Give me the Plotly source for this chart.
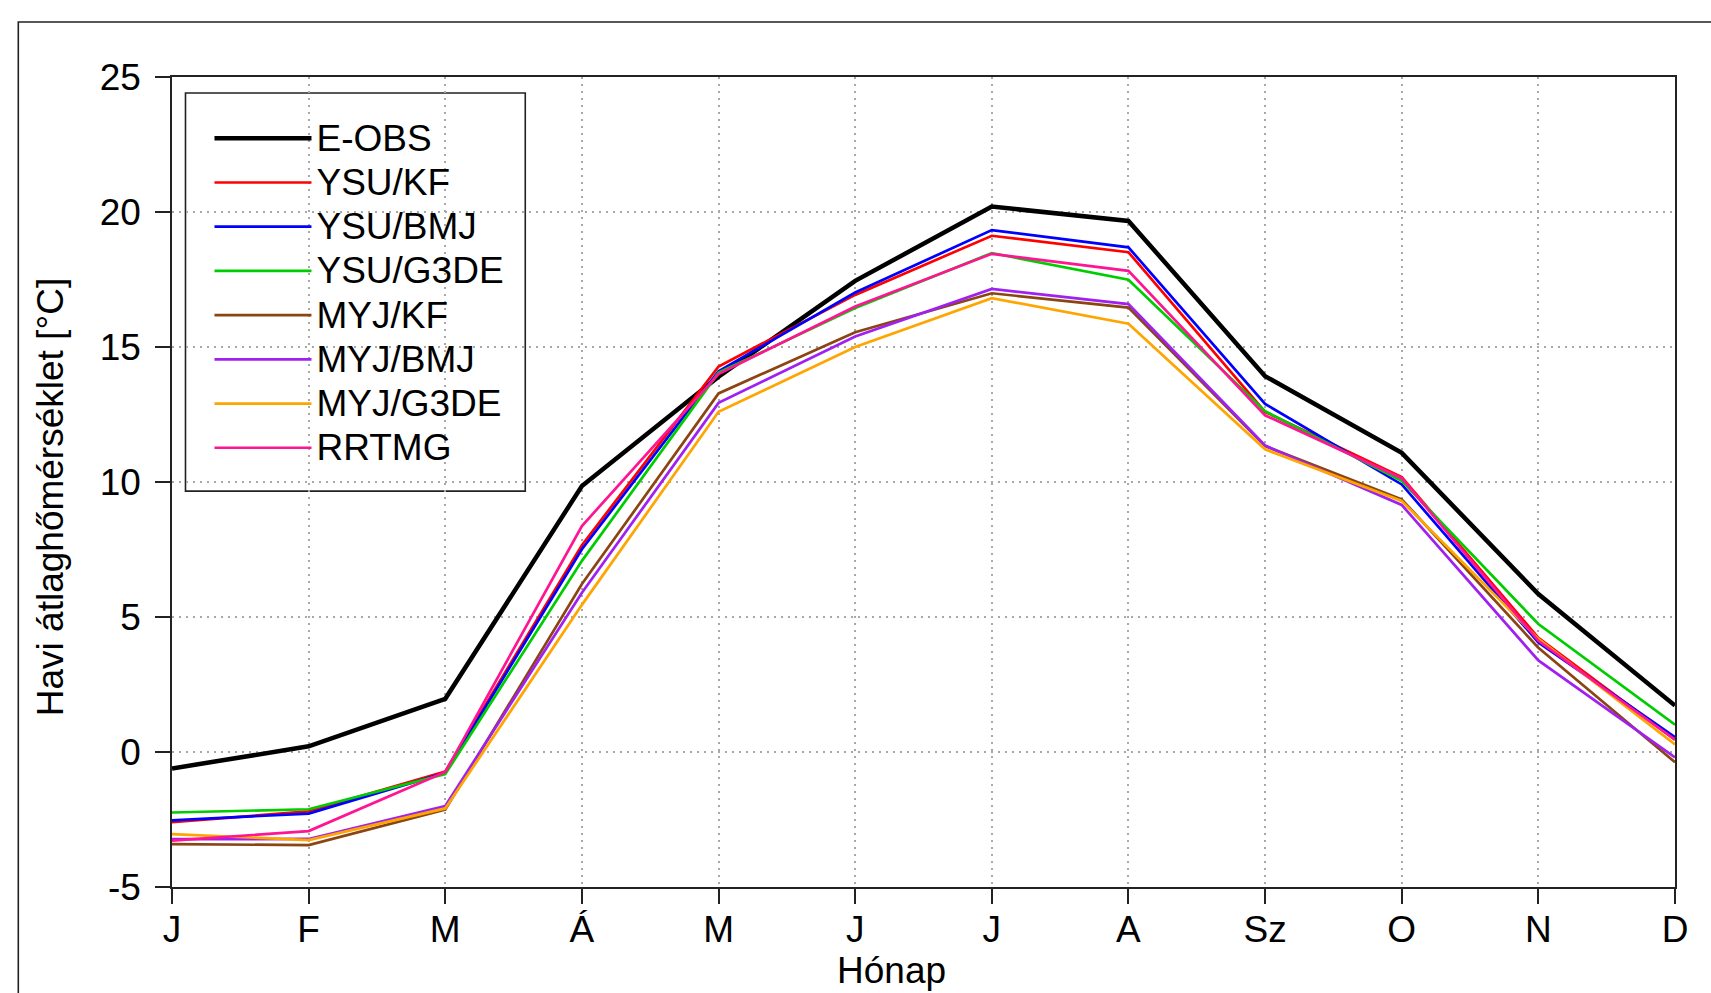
import plotly.graph_objects as go

# ---- data ----
month_labels = ["J", "F", "M", "Á", "M", "J", "J", "A", "Sz", "O", "N", "D"]
month_index = list(range(len(month_labels)))

series_names = ["E-OBS", "YSU/KF", "YSU/BMJ", "YSU/G3DE", "MYJ/KF", "MYJ/BMJ", "MYJ/G3DE", "RRTMG"]

eobs     = [-0.61, 0.21, 1.97, 9.85, 13.90, 17.45, 20.20, 19.67, 13.92, 11.08, 5.85, 1.72]
ysu_kf   = [-2.60, -2.20, -0.72, 7.66, 14.28, 16.93, 19.12, 18.51, 12.60, 10.18, 4.23, 0.46]
ysu_bmj  = [-2.53, -2.28, -0.77, 7.51, 14.10, 17.02, 19.33, 18.69, 12.89, 9.91, 4.06, 0.55]
ysu_g3de = [-2.24, -2.12, -0.82, 7.08, 14.05, 16.44, 18.48, 17.49, 12.62, 10.04, 4.74, 1.01]
myj_kf   = [-3.41, -3.45, -2.13, 6.22, 13.28, 15.55, 16.99, 16.46, 11.33, 9.36, 3.86, -0.38]
myj_bmj  = [-3.23, -3.22, -2.00, 5.90, 12.93, 15.39, 17.15, 16.59, 11.35, 9.15, 3.39, -0.20]
myj_g3de = [-3.04, -3.26, -2.09, 5.45, 12.60, 15.00, 16.81, 15.86, 11.21, 9.30, 4.19, 0.28]
rrtmg    = [-3.28, -2.93, -0.74, 8.37, 14.00, 16.50, 18.45, 17.82, 12.47, 10.14, 4.12, 0.46]

y_ticks = [-5, 0, 5, 10, 15, 20, 25]
y_tick_labels = ["-5", "0", "5", "10", "15", "20", "25"]

x_title = "Hónap"
y_title = "Havi átlaghőmérséklet [°C]"

series_values = [eobs, ysu_kf, ysu_bmj, ysu_g3de, myj_kf, myj_bmj, myj_g3de, rrtmg]
series_colors = ["#000000", "#FF0000", "#0000FF", "#00CD00", "#8B4513", "#A020F0", "#FFA500", "#FF1493"]
series_widths = [4.5, 2.7, 2.7, 2.7, 2.7, 2.7, 2.7, 2.7]

FONT = "Liberation Sans, Arial, Helvetica, sans-serif"
FS = 37
LEGEND_FS = 31.7  # controls legend row spacing

fig = go.Figure()
for name, vals, col, w in zip(series_names, series_values, series_colors, series_widths):
    fig.add_trace(go.Scatter(
        x=month_index, y=vals, mode="lines",
        name=f"<span style='font-size:{FS}px'>{name}</span>",
        line=dict(color=col, width=w),
    ))

W, H = 1711, 993
L, R, T, B = 171.5, 35.5, 76.7, 106
pw, ph = W - L - R, H - T - B

def px_x(p):
    return (p - L) / pw

def px_y(p):
    return (H - B - p) / ph

axis_common = dict(
    showline=True, linecolor="#222222", linewidth=1.6, mirror=True,
    ticks="outside", ticklen=15, tickwidth=1.6, tickcolor="#222222",
    showgrid=True, gridcolor="#a8a8a8", gridwidth=1.5, griddash="2px,5px",
    zeroline=False,
    tickfont=dict(family=FONT, size=FS, color="#000000"),
)

fig.update_layout(
    width=W, height=H,
    margin=dict(l=L, r=R, t=T, b=B, autoexpand=False),
    paper_bgcolor="white", plot_bgcolor="white",
    font=dict(family=FONT, size=FS, color="#000000"),
    xaxis=dict(
        range=[0, 11], tickmode="array", tickvals=month_index, ticktext=month_labels,
        ticklabelstandoff=-6,
        **axis_common,
    ),
    yaxis=dict(
        range=[-5, 25], tickmode="array", tickvals=y_ticks, ticktext=y_tick_labels,
        ticklabelstandoff=7,
        **axis_common,
    ),
    legend=dict(
        x=px_x(209), y=px_y(110.9), xanchor="left", yanchor="top",
        borderwidth=0, bgcolor="rgba(0,0,0,0)",
        font=dict(family=FONT, size=LEGEND_FS, color="#000000"),
        itemwidth=97,
    ),
    annotations=[
        dict(
            text=x_title, xref="paper", yref="paper",
            x=px_x(891.7), y=px_y(971), xanchor="center", yanchor="middle",
            showarrow=False, font=dict(family=FONT, size=FS, color="#000000"),
        ),
        dict(
            text=y_title, xref="paper", yref="paper", textangle=-90,
            x=px_x(49.5), y=px_y(497), xanchor="center", yanchor="middle",
            showarrow=False, font=dict(family=FONT, size=FS, color="#000000"),
        ),
    ],
    shapes=[
        dict(  # outer figure frame
            type="rect", xref="paper", yref="paper",
            x0=px_x(17.7), x1=px_x(1760), y0=px_y(1050), y1=px_y(21.7),
            line=dict(color="#222222", width=1.6), layer="below",
        ),
        dict(  # legend frame
            type="rect", xref="paper", yref="paper",
            x0=px_x(185), x1=px_x(525), y0=px_y(491), y1=px_y(92.7),
            line=dict(color="#222222", width=1.6), fillcolor="white", layer="between",
        ),
    ],
)

fig.write_html("out.html")
